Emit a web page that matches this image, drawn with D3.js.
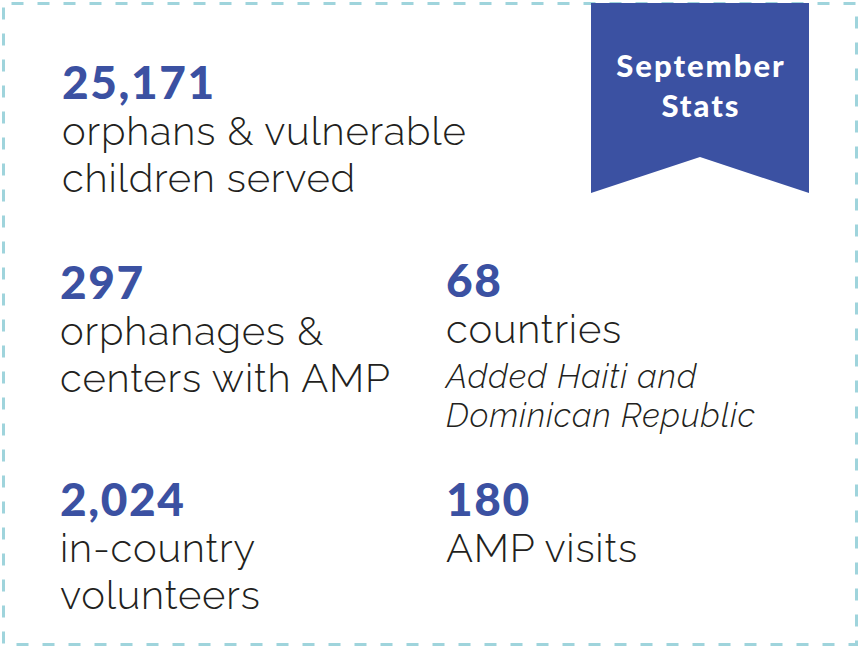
<!DOCTYPE html>
<html>
<head>
<meta charset="utf-8">
<script src="https://cdn.jsdelivr.net/npm/d3@7"></script>
<style>
  html, body { margin: 0; padding: 0; background: #ffffff; }
  svg { display: block; }
</style>
</head>
<body>
<svg id="chart" width="860" height="648"></svg>
<script>
// ---- data ----
const title = ["September", "Stats"];
const statValues = ["25,171", "297", "68", "2,024", "180"];
const statLabels = [
  ["orphans & vulnerable", "children served"],
  ["orphanages &", "centers with AMP"],
  ["countries"],
  ["in-country", "volunteers"],
  ["AMP visits"]
];
const statNotes = [[], [], ["Added Haiti and", "Dominican Republic"], [], []];

// ---- layout (positions per stat block: left x, baseline of number) ----
const blockPos = [
  {x: 62, y: 99},
  {x: 60, y: 299},
  {x: 446, y: 297},
  {x: 60, y: 516},
  {x: 446, y: 516}
];
const blue = "#3b51a2";
const ink = "#231f20";
const border = "#9fd4dc";
const W = 860, H = 648;

const svg = d3.select("#chart");

// dashed border
svg.append("rect")
  .attr("x", 3.5).attr("y", 3.5)
  .attr("width", W - 7).attr("height", H - 7)
  .attr("fill", "none")
  .attr("stroke", border)
  .attr("stroke-width", 3)
  .attr("stroke-dasharray", "12,14")
  .attr("stroke-dashoffset", -8);

// ribbon
const rx0 = 591, rx1 = 809, rTop = 3, rBot = 193, rNotch = 157;
const ribbon = d3.path();
ribbon.moveTo(rx0, rTop);
ribbon.lineTo(rx1, rTop);
ribbon.lineTo(rx1, rBot);
ribbon.lineTo((rx0 + rx1) / 2, rNotch);
ribbon.lineTo(rx0, rBot);
ribbon.closePath();
svg.append("path").attr("d", ribbon.toString()).attr("fill", blue);

svg.append("g").selectAll("text")
  .data(title)
  .join("text")
  .attr("x", (rx0 + rx1) / 2 + 1)
  .attr("y", (d, i) => 77 + i * 40)
  .attr("text-anchor", "middle")
  .attr("fill", "#ffffff")
  .attr("font-family", "Lato, 'Noto Sans', sans-serif")
  .attr("font-weight", 900)
  .attr("font-size", 31)
  .attr("letter-spacing", 2)
  .text(d => d);

const numFont = "Lato, 'Noto Sans', sans-serif";
const labFont = "Raleway, Lato, 'Noto Sans', sans-serif";

const blocks = svg.append("g").selectAll("g")
  .data(statValues.map((v, i) => ({v, labels: statLabels[i], notes: statNotes[i], p: blockPos[i]})))
  .join("g")
  .attr("transform", d => `translate(${d.p.x},${d.p.y})`);

blocks.append("text")
  .attr("x", 0).attr("y", 0)
  .attr("fill", blue)
  .attr("font-family", numFont)
  .attr("font-weight", 900)
  .attr("font-size", 46)
  .attr("letter-spacing", 1.6)
  .text(d => d.v);

blocks.each(function(d) {
  const g = d3.select(this);
  g.selectAll("text.lab")
    .data(d.labels)
    .join("text")
    .attr("class", "lab")
    .attr("x", 0)
    .attr("y", (t, i) => 46 + i * 47)
    .attr("fill", ink)
    .attr("font-family", labFont)
    .attr("font-weight", 300)
    .attr("font-size", 40)
    .attr("letter-spacing", 0.8)
    .text(t => t);
  const n = d.labels.length;
  g.selectAll("text.note")
    .data(d.notes)
    .join("text")
    .attr("class", "note")
    .attr("x", 0)
    .attr("y", (t, i) => 46 + (n - 1) * 47 + 45 + i * 39)
    .attr("fill", ink)
    .attr("font-family", labFont)
    .attr("font-style", "italic")
    .attr("font-weight", 300)
    .attr("font-size", 33)
    .attr("letter-spacing", 1)
    .text(t => t);
});
</script>
</body>
</html>
